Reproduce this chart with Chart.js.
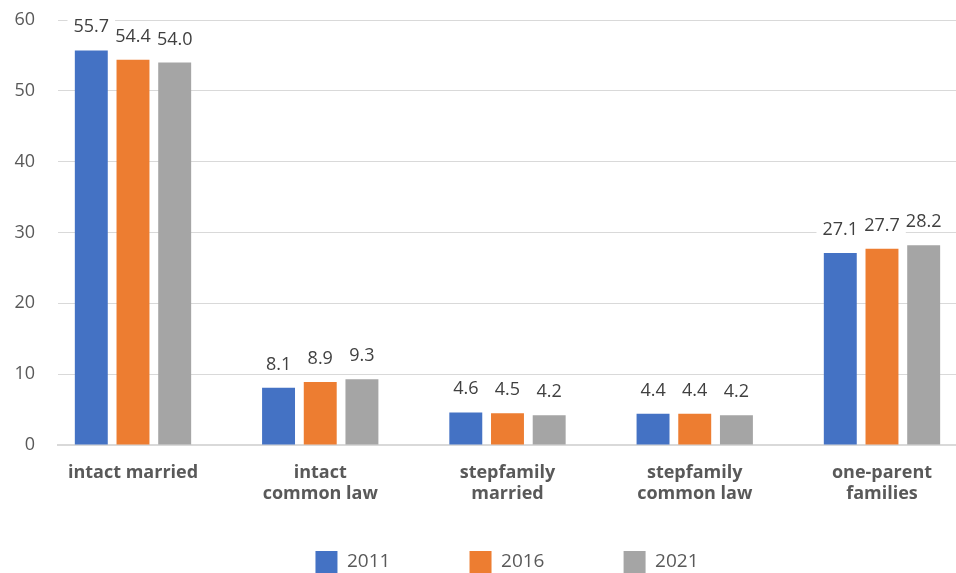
<!DOCTYPE html>
<html>
<head>
<meta charset="utf-8">
<script src="https://cdn.jsdelivr.net/npm/chart.js@4.4.1/dist/chart.umd.min.js"></script>
<style>
  html, body { margin: 0; padding: 0; background: #fff; }
  #wrap { width: 956px; height: 573px; position: relative; }
</style>
</head>
<body>
<div id="wrap"><canvas id="family-chart"></canvas></div>
<script>
(function() {
  'use strict';

  var CATEGORIES = [
    ['intact married'],
    ['intact', 'common law'],
    ['stepfamily', 'married'],
    ['stepfamily', 'common law'],
    ['one-parent', 'families']
  ];
  var YEARS = ['2011', '2016', '2021'];
  var VALUES_2011 = [55.7, 8.1, 4.6, 4.4, 27.1];
  var VALUES_2016 = [54.4, 8.9, 4.5, 4.4, 27.7];
  var VALUES_2021 = [54.0, 9.3, 4.2, 4.2, 28.2];
  var Y_TICKS = [0, 10, 20, 30, 40, 50, 60];

  var BLUE   = '#4472C4';
  var ORANGE = '#ED7D31';
  var GRAY   = '#A5A5A5';
  var TEXT   = '#595959';
  var LABEL  = '#404040';
  var GRID   = '#d9d9d9';
  var FONT   = "'Open Sans', sans-serif";

  function points(values) {
    return values.map(function(v, i) { return { x: i, y: v }; });
  }

  /* value labels sitting on a white box above each bar */
  var valueLabels = {
    id: 'valueLabels',
    afterDatasetsDraw: function(chart) {
      var ctx = chart.ctx;
      var items = [];
      ctx.save();
      ctx.font = '18px ' + FONT;
      chart.data.datasets.forEach(function(ds, di) {
        chart.getDatasetMeta(di).data.forEach(function(bar, i) {
          var txt = ds.data[i].y.toFixed(1);
          var w = ctx.measureText(txt).width;
          items.push({ txt: txt, x: bar.x, y: bar.y - 18, w: w });
        });
      });
      ctx.fillStyle = '#ffffff';
      items.forEach(function(it) {
        ctx.fillRect(it.x - it.w / 2 - 6, it.y - 17, it.w + 12, 21);
      });
      ctx.fillStyle = LABEL;
      ctx.textAlign = 'center';
      ctx.textBaseline = 'alphabetic';
      items.forEach(function(it) {
        ctx.fillText(it.txt, it.x, it.y);
      });
      ctx.restore();
    }
  };

  new Chart(document.getElementById('family-chart'), {
    type: 'bar',
    data: {
      datasets: [
        { label: YEARS[0], data: points(VALUES_2011), backgroundColor: BLUE },
        { label: YEARS[1], data: points(VALUES_2016), backgroundColor: ORANGE },
        { label: YEARS[2], data: points(VALUES_2021), backgroundColor: GRAY }
      ]
    },
    options: {
      responsive: true,
      maintainAspectRatio: false,
      animation: false,
      categoryPercentage: 0.668,
      barPercentage: 0.79,
      layout: { padding: { left: 0, right: 0, top: 20, bottom: -10 } },
      plugins: {
        tooltip: { enabled: false },
        legend: {
          position: 'bottom',
          fullSize: false,
          labels: {
            boxWidth: 22,
            boxHeight: 22,
            padding: 10,
            color: TEXT,
            font: { family: FONT, size: 19 },
            // widen the first items so the keys sit further apart
            generateLabels: function(chart) {
              var items = Chart.defaults.plugins.legend.labels.generateLabels(chart);
              var ctx = chart.ctx;
              ctx.save();
              ctx.font = '19px ' + FONT;
              items.forEach(function(it, i) {
                if (i < items.length - 1) {
                  while (ctx.measureText(it.text).width < 112) it.text += ' ';
                }
              });
              ctx.restore();
              return items;
            }
          }
        }
      },
      scales: {
        x: {
          type: 'linear',
          offset: false,
          min: -0.4005,
          max: 4.3953,
          afterBuildTicks: function(scale) {
            scale.ticks = CATEGORIES.map(function(c, i) { return { value: i }; });
          },
          afterFit: function(scale) { scale.height = 96; },
          ticks: {
            color: TEXT,
            padding: 17,
            maxRotation: 0,
            autoSkip: false,
            font: { family: FONT, size: 18, weight: 'bold', lineHeight: 1.17 },
            callback: function(value) { return CATEGORIES[value]; }
          },
          grid: { display: false, drawTicks: false },
          border: { display: true, color: GRID, width: 2 }
        },
        y: {
          min: 0,
          max: 60,
          afterBuildTicks: function(scale) {
            scale.ticks = Y_TICKS.map(function(v) { return { value: v }; });
          },
          afterFit: function(scale) { scale.width = 58; },
          ticks: {
            color: TEXT,
            padding: 0,
            font: { family: FONT, size: 18 }
          },
          grid: {
            color: GRID,
            lineWidth: 1,
            drawTicks: true,
            tickLength: 23,
            tickColor: 'rgba(0,0,0,0)'
          },
          border: { display: false }
        }
      }
    },
    plugins: [valueLabels]
  });
})();
</script>
</body>
</html>
